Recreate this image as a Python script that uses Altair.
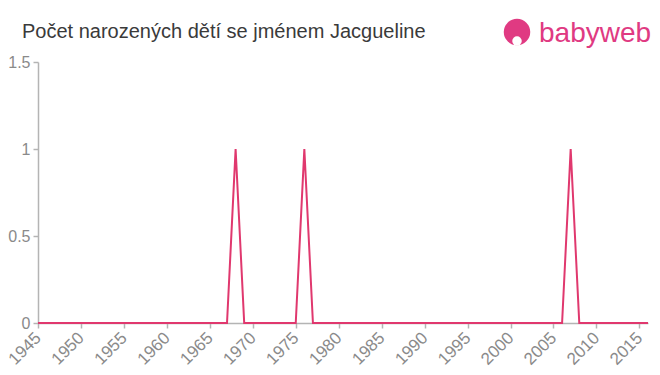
import altair as alt
import pandas as pd

years = list(range(1945, 2017))
counts = [0, 0, 0, 0, 0, 0, 0, 0, 0, 0,   # 1945-1954
          0, 0, 0, 0, 0, 0, 0, 0, 0, 0,   # 1955-1964
          0, 0, 0, 1, 0, 0, 0, 0, 0, 0,   # 1965-1974
          0, 1, 0, 0, 0, 0, 0, 0, 0, 0,   # 1975-1984
          0, 0, 0, 0, 0, 0, 0, 0, 0, 0,   # 1985-1994
          0, 0, 0, 0, 0, 0, 0, 0, 0, 0,   # 1995-2004
          0, 0, 1, 0, 0, 0, 0, 0, 0, 0,   # 2005-2014
          0, 0]                           # 2015-2016
x_ticks = list(range(1945, 2020, 5))
y_ticks = [0, 0.5, 1, 1.5]
title_text = "Počet narozených dětí se jménem Jacgueline"
logo_text = "babyweb"

df = pd.DataFrame({"year": years, "count": counts})

FONT = "Liberation Sans"
AXIS_COLOR = "#b4b4b4"
LABEL_COLOR = "#8a8a8a"
LINE_COLOR = "#e0386e"
PINK = "#e03a82"

line = alt.Chart(df).mark_line(color=LINE_COLOR, strokeWidth=2, clip=False).encode(
    x=alt.X("year:Q", scale=alt.Scale(domain=[1945, 2016], nice=False, zero=False),
            axis=alt.Axis(values=x_ticks, format="d", labelAngle=-45, labelAlign="right",
                          labelBaseline="middle", labelFontSize=17, labelColor=LABEL_COLOR,
                          labelFont=FONT, labelPadding=7, labelOverlap=False,
                          domainColor=AXIS_COLOR, domainWidth=1.5, tickColor=AXIS_COLOR,
                          tickWidth=1.5, tickSize=5, grid=False, title=None)),
    y=alt.Y("count:Q", scale=alt.Scale(domain=[0, 1.5], nice=False),
            axis=alt.Axis(values=y_ticks, format="~g", labelFontSize=16, labelColor=LABEL_COLOR,
                          labelFont=FONT, labelPadding=3, domainColor=AXIS_COLOR,
                          domainWidth=1.5, tickColor=AXIS_COLOR, tickWidth=1.5,
                          tickSize=5, grid=False, title=None)),
)

title_df = pd.DataFrame({"t": [title_text]})
title_mark = alt.Chart(title_df).mark_text(
    font=FONT, fontSize=20, color="#3a3a3a", align="left", baseline="middle"
).encode(text="t:N", x=alt.value(-16), y=alt.value(-30))

logo_df = pd.DataFrame({"t": [logo_text]})
logo_txt = alt.Chart(logo_df).mark_text(
    font=FONT, fontSize=28, color=PINK, align="left", baseline="middle", fontWeight="normal"
).encode(text="t:N", x=alt.value(501), y=alt.value(-28))
logo_circle = alt.Chart(logo_df).mark_point(
    shape="circle", filled=True, size=700, color=PINK, opacity=1
).encode(x=alt.value(479), y=alt.value(-30))
logo_face = alt.Chart(logo_df).mark_point(
    shape="circle", filled=True, size=90, color="white", opacity=1
).encode(x=alt.value(479), y=alt.value(-21))

chart = alt.layer(line, title_mark, logo_circle, logo_face, logo_txt).properties(
    width=610, height=261,
    autosize=alt.AutoSizeParams(type="none"),
    padding={"left": 38, "top": 62, "right": 12, "bottom": 52},
).configure_view(stroke=None)

chart.save("out.html", embed_options={"renderer": "svg", "actions": False})
